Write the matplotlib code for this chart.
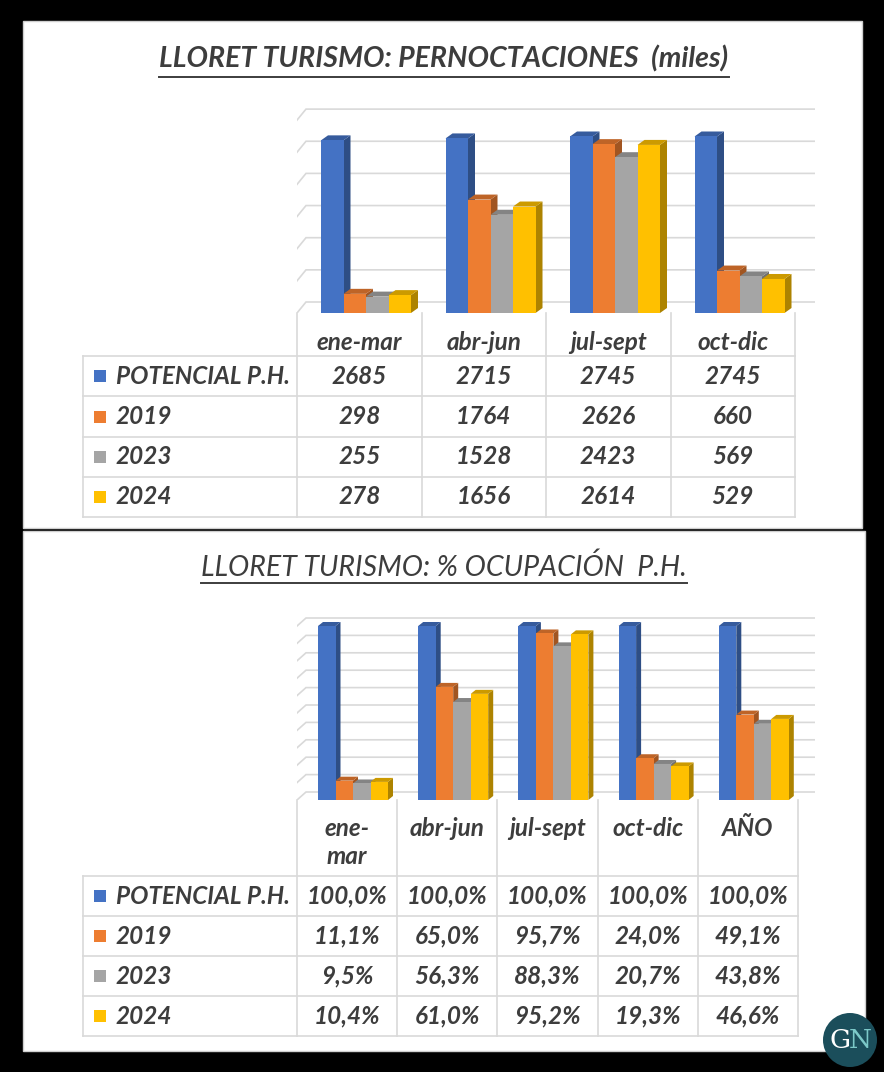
"""
Lloret turismo: pernoctaciones y % ocupacion (graficos 3D tipo Excel con tabla)
"""

import numpy as np
import matplotlib.pyplot as plt
from matplotlib.colors import to_rgb
from matplotlib.patches import Rectangle, Polygon, Circle

# --- datos ---
series = ["POTENCIAL P.H.", "2019", "2023", "2024"]

periods_top = ["ene-mar", "abr-jun", "jul-sept", "oct-dic"]
pern_potencial = [2685, 2715, 2745, 2745]
pern_2019 = [298, 1764, 2626, 660]
pern_2023 = [255, 1528, 2423, 569]
pern_2024 = [278, 1656, 2614, 529]

periods_bottom = ["ene-\nmar", "abr-jun", "jul-sept", "oct-dic", "AÑO"]
occ_potencial = [100.0, 100.0, 100.0, 100.0, 100.0]
occ_2019 = [11.1, 65.0, 95.7, 24.0, 49.1]
occ_2023 = [9.5, 56.3, 88.3, 20.7, 43.8]
occ_2024 = [10.4, 61.0, 95.2, 19.3, 46.6]

COLORS = ["#4472C4", "#ED7D31", "#A5A5A5", "#FFC000"]
GRID = "#d9d9d9"
TXT = "#3d3d3d"
FONT = ["Lato", "DejaVu Sans"]
TSIZE = 17.5

W, H = 884, 1072
fig = plt.figure(figsize=(W / 100, H / 100), dpi=100, facecolor="black")
bg = fig.add_axes([0, 0, 1, 1])
bg.set_xlim(0, W)
bg.set_ylim(H, 0)
bg.axis("off")

# paneles blancos
bg.add_patch(Rectangle((23, 21), 839, 507, fc="white", ec="#cfcfcf", lw=1))
bg.add_patch(Rectangle((23, 531), 842, 520, fc="white", ec="#cfcfcf", lw=1))


def shade(c, f):
    r, g, b = to_rgb(c)
    return (r * f, g * f, b * f)


def title(text, y, weight, size, underline_y):
    t = bg.text(444, y, text, ha="center", va="center", fontsize=size,
                style="italic", fontweight=weight, color=TXT, family=FONT)
    fig.canvas.draw()
    bb = t.get_window_extent()
    inv = bg.transData.inverted()
    xa = inv.transform((bb.x0, bb.y0))[0]
    xb = inv.transform((bb.x1, bb.y0))[0]
    bg.plot([xa, xb], [underline_y, underline_y], color=TXT, lw=1.4)


def chart_3d(box, col_px, unit_px, values, grid_max, grid_step,
             bar_left, bar_w, bar_depth, wall_depth):
    x0, y0, x1, y1 = box
    ax = fig.add_axes([x0 / W, 1 - y1 / H, (x1 - x0) / W, (y1 - y0) / H])
    ax.set_xlim(0, (x1 - x0) / col_px)
    ax.set_ylim(0, (y1 - y0) / unit_px)
    ax.axis("off")
    ax.patch.set_alpha(0)
    sx, sy = 1 / col_px, 1 / unit_px
    xmax = (x1 - x0) / col_px

    wdx, wdy = wall_depth[0] * sx, wall_depth[1] * sy
    for v in np.arange(0, grid_max + grid_step / 2, grid_step):
        ax.plot([0, wdx, xmax], [v, v + wdy, v + wdy], color=GRID, lw=1.2,
                zorder=1, solid_joinstyle="miter")

    bdx, bdy = bar_depth[0] * sx, bar_depth[1] * sy
    bw = bar_w * sx
    for j in range(len(values[0])):
        for i, (vals, c) in enumerate(zip(values, COLORS)):
            v = vals[j]
            xl = j + bar_left * sx + i * bw
            xr = xl + bw
            ax.add_patch(Polygon([(xr, 0), (xr + bdx, bdy), (xr + bdx, v + bdy), (xr, v)],
                                 fc=shade(c, 0.68), ec="none", zorder=3))
            ax.add_patch(Polygon([(xl, v), (xr, v), (xr + bdx, v + bdy), (xl + bdx, v + bdy)],
                                 fc=shade(c, 0.8), ec="none", zorder=3))
            ax.bar(xl, v, width=bw, align="edge", color=c, zorder=3, lw=0)
    return ax


def table(col_x0, col_w, floor_y, row_lines, header_y, header_step,
          periods, values, fmt, right_x):
    n = len(periods)
    edges = [col_x0 + col_w * k for k in range(n + 1)]
    for y in row_lines:
        bg.plot([83, right_x], [y, y], color=GRID, lw=1.2)
    bg.plot([83, 83], [row_lines[0], row_lines[-1]], color=GRID, lw=1.2)
    for x in edges:
        bg.plot([x, x], [floor_y, row_lines[-1]], color=GRID, lw=1.2)

    for k, p in enumerate(periods):
        cx = edges[k] + col_w / 2
        for m, line in enumerate(p.split("\n")):
            bg.text(cx, header_y + m * header_step, line, ha="center", va="center",
                    fontsize=TSIZE, style="italic", fontweight="bold", color=TXT,
                    family=FONT)

    for r, (name, vals, c) in enumerate(zip(series, values, COLORS)):
        cy = (row_lines[r] + row_lines[r + 1]) / 2
        bg.add_patch(Rectangle((94, cy - 6), 12, 12, fc=c, ec="none"))
        bg.text(116, cy, name, ha="left", va="center", fontsize=TSIZE,
                style="italic", fontweight="bold", color=TXT, family=FONT)
        for k, v in enumerate(vals):
            bg.text(edges[k] + col_w / 2, cy, fmt(v), ha="center", va="center",
                    fontsize=TSIZE, style="italic", fontweight="bold", color=TXT,
                    family=FONT)


# --- grafico superior: pernoctaciones ---
title("LLORET TURISMO: PERNOCTACIONES  (miles)", 59, "bold", 20.5, 77)
pern = [pern_potencial, pern_2019, pern_2023, pern_2024]
chart_3d((297, 100, 815, 313), 124.5, 0.0643, pern, 3000, 500,
         bar_left=24, bar_w=22.5, bar_depth=(7, 5), wall_depth=(9, 11))
table(297, 124.5, 313, [356, 396, 437, 477, 517], 342, 0,
      periods_top, pern, lambda v: f"{v}", 795)

# --- grafico inferior: % ocupacion ---
title("LLORET TURISMO: % OCUPACIÓN  P.H.", 567, "normal", 20.5, 583)
occ = [occ_potencial, occ_2019, occ_2023, occ_2024]
chart_3d((297, 608, 815, 800), 100.2, 1.74, occ, 100, 10,
         bar_left=21, bar_w=17.5, bar_depth=(5, 4), wall_depth=(9, 8))
table(297, 100.2, 800, [876, 916, 956, 996, 1036], 828, 29,
      periods_bottom, occ, lambda v: f"{v:.1f}%".replace(".", ","), 798)

# --- logo ---
bg.add_patch(Circle((850, 1040), 27, fc="#1b4e5b", ec="none", clip_on=False))
bg.text(851, 1041, "G", ha="right", va="center", fontsize=19, color="white",
        family="DejaVu Serif")
bg.text(849, 1041, "N", ha="left", va="center", fontsize=19, color="#7cc8c8",
        family="DejaVu Serif")

fig.savefig("out.png", dpi=100, facecolor="black")
